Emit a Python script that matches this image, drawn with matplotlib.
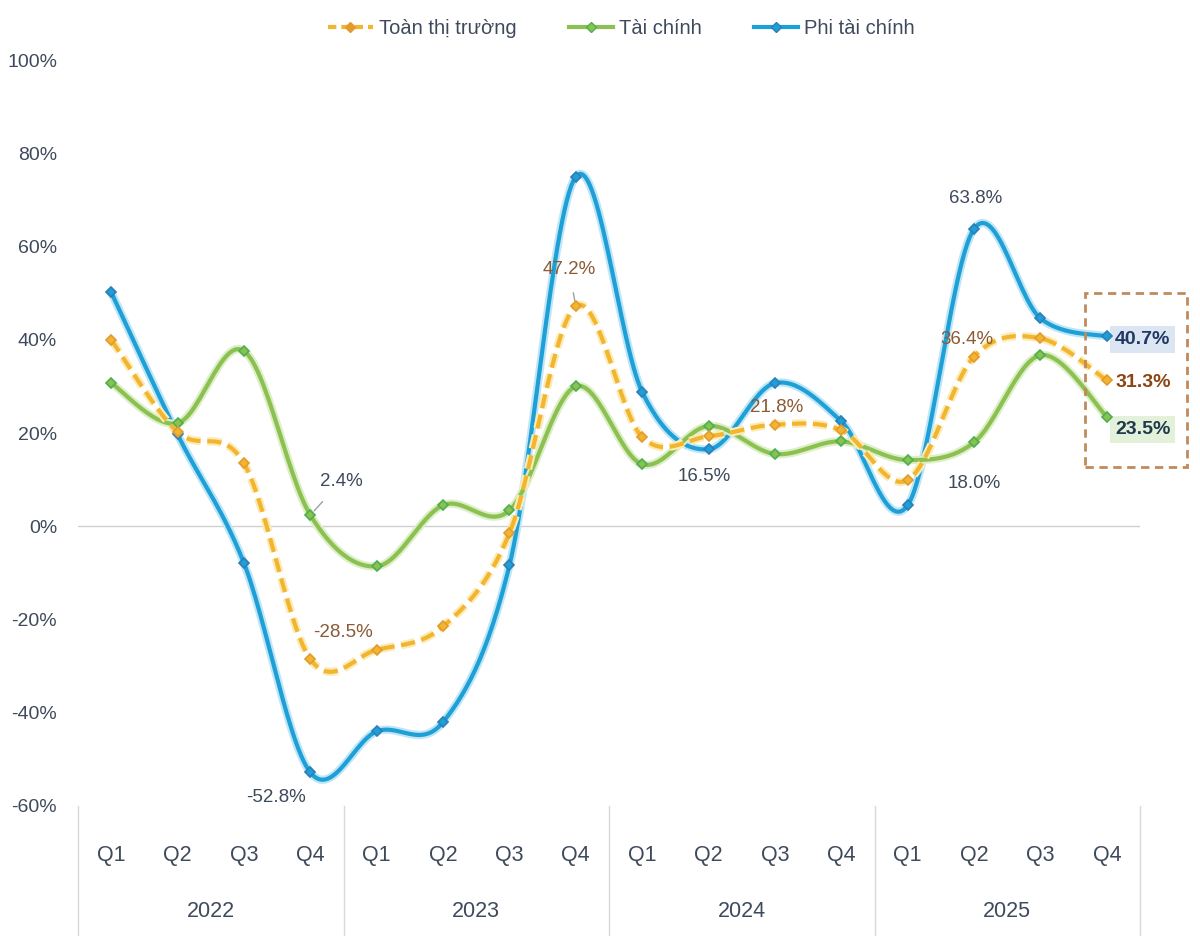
import numpy as np
import matplotlib
matplotlib.use('Agg')
import matplotlib.pyplot as plt
import matplotlib.patheffects as pe
from matplotlib.lines import Line2D
from matplotlib.patches import Rectangle

plt.rcParams['font.family'] = ['Liberation Sans', 'DejaVu Sans']

# Data
years = ['2022', '2023', '2024', '2025']
quarters = ['Q1', 'Q2', 'Q3', 'Q4'] * 4
toan_thi_truong = [40, 20.2, 13.5, -28.5, -26.5, -21.5, -1.5, 47.2,
                   19.1, 19.3, 21.8, 20.6, 9.9, 36.4, 40.3, 31.3]
tai_chinh = [30.7, 22.1, 37.6, 2.4, -8.6, 4.5, 3.4, 30.0,
             13.3, 21.5, 15.5, 18.2, 14.2, 18.0, 36.7, 23.5]
phi_tai_chinh = [50.2, 19.7, -7.9, -52.8, -44.0, -42.0, -8.4, 75.0,
                 28.8, 16.5, 30.7, 22.5, 4.5, 63.8, 44.6, 40.7]

# Colors
c_orange = '#F2B530'
c_orange_mk = '#E39A2E'
c_green = '#8CC152'
c_green_mk = '#4CAF50'
c_blue = '#1E9FD6'
c_blue_mk = '#2C7FB8'
c_text = '#3E4A5C'
c_brown = '#8A5A35'


def smooth(y, n=30):
    # Excel-like smoothed line (Catmull-Rom as Bezier)
    y = np.asarray(y, dtype=float)
    x = np.arange(len(y), dtype=float)
    xs, ys = [], []
    for i in range(len(y) - 1):
        i0 = max(i - 1, 0)
        i3 = min(i + 2, len(y) - 1)
        t = np.linspace(0, 1, n)
        for arr, out in ((x, xs), (y, ys)):
            p0, p1, p2, p3 = arr[i0], arr[i], arr[i + 1], arr[i3]
            c1 = p1 + (p2 - p0) / 6
            c2 = p2 - (p3 - p1) / 6
            b = ((1 - t) ** 3 * p1 + 3 * (1 - t) ** 2 * t * c1
                 + 3 * (1 - t) * t ** 2 * c2 + t ** 3 * p2)
            out.extend(b if i == 0 else b[1:])
    return np.array(xs), np.array(ys)


fig = plt.figure(figsize=(12, 9.41), dpi=100)
ax = fig.add_axes([0.065, 0.1435, 0.885, 0.7927])

ax.axhline(0, color='#D0D0D0', lw=1, zorder=1)

series = [
    (phi_tai_chinh, c_blue, c_blue_mk, '-', '#BFE6F7'),
    (tai_chinh, c_green, c_green_mk, '-', '#DDEFC8'),
    (toan_thi_truong, c_orange, c_orange_mk, (0, (3.4, 1.6)), '#FCEBB5'),
]
x = np.arange(16)
for vals, col, mk, ls, glow in series:
    sx, sy = smooth(vals)
    ax.plot(sx, sy, color=col, lw=3, ls=ls, zorder=3, solid_capstyle='round',
            path_effects=[pe.Stroke(linewidth=6, foreground=glow), pe.Normal()])
    ax.plot(x, vals, ls='none', marker='D', ms=5.5, mfc=col, mec=mk, mew=1.2, zorder=4)

ax.set_xlim(-0.5, 15.5)
ax.set_ylim(-60, 100)
ax.set_yticks(np.arange(-60, 101, 20))
ax.set_yticklabels([f'{v}%' for v in range(-60, 101, 20)])
ax.tick_params(axis='y', length=0, labelsize=14, labelcolor=c_text, pad=15)
ax.set_xticks([])
for s in ax.spines.values():
    s.set_visible(False)

# category axis
trans = ax.get_xaxis_transform()
for i, q in enumerate(quarters):
    ax.text(i, -0.066, q, transform=trans, ha='center', va='center',
            fontsize=15.5, color=c_text)
for g, yr in enumerate(years):
    ax.text(g * 4 + 1.5, -0.142, yr, transform=trans, ha='center', va='center',
            fontsize=15.5, color=c_text)
for b in range(5):
    ax.plot([b * 4 - 0.5] * 2, [0, -0.173], transform=trans, color='#D9D9D9',
            lw=1, clip_on=False)

# data labels (index, series, text, offset px, color, leader)
labels = [
    (3, tai_chinh, '2.4%', (31, 34), c_text, True),
    (3, toan_thi_truong, '-28.5%', (33, 27), c_brown, False),
    (3, phi_tai_chinh, '-52.8%', (-34, -25), c_text, False),
    (7, toan_thi_truong, '47.2%', (-7, 37), c_brown, True),
    (9, phi_tai_chinh, '16.5%', (-4, -27), c_text, False),
    (10, toan_thi_truong, '21.8%', (2, 17), c_brown, False),
    (13, phi_tai_chinh, '63.8%', (2, 30), c_text, False),
    (13, toan_thi_truong, '36.4%', (-7, 17), c_brown, False),
    (13, tai_chinh, '18.0%', (0, -41), c_text, False),
]
for i, arr, txt, off, col, lead in labels:
    kw = {}
    if lead:
        kw['arrowprops'] = dict(arrowstyle='-', color='#A0A0A0', lw=1,
                                shrinkA=9, shrinkB=4)
    ax.annotate(txt, (i, arr[i]), xytext=off, textcoords='offset pixels',
                ha='center', va='center', fontsize=13.5, color=col, **kw)

# highlighted end labels
ax.annotate(f'{phi_tai_chinh[15]}%', (15, phi_tai_chinh[15]), xytext=(36, -3),
            textcoords='offset pixels', ha='center', va='center', fontsize=14,
            fontweight='bold', color='#1F3864', annotation_clip=False,
            bbox=dict(boxstyle='square,pad=0.25', fc='#DCE5F2', ec='none'))
ax.annotate(f'{toan_thi_truong[15]}%', (15, toan_thi_truong[15]), xytext=(36, -2),
            textcoords='offset pixels', ha='center', va='center', fontsize=14,
            fontweight='bold', color='#8B4513', annotation_clip=False)
ax.annotate(f'{tai_chinh[15]}%', (15, tai_chinh[15]), xytext=(36, -13),
            textcoords='offset pixels', ha='center', va='center', fontsize=14,
            fontweight='bold', color='#1F3A4D', annotation_clip=False,
            bbox=dict(boxstyle='square,pad=0.25', fc='#E3F0DA', ec='none'),
            arrowprops=dict(arrowstyle='-', color='#A0A0A0', lw=1, shrinkA=20, shrinkB=4))

fig.patches.append(Rectangle((1085 / 1200, 1 - 467 / 941), 102 / 1200, 174 / 941,
                             transform=fig.transFigure, fill=False, ec='#C08A5C',
                             lw=2, ls=(0, (3, 2))))

# legend
handles = [
    Line2D([], [], color=c_orange, lw=3, ls=(0, (2, 1.2)), marker='D', ms=5.5,
           mfc=c_orange_mk, mec=c_orange_mk),
    Line2D([], [], color=c_green, lw=3, marker='D', ms=5.5, mfc=c_green, mec=c_green_mk),
    Line2D([], [], color=c_blue, lw=3, marker='D', ms=5.5, mfc=c_blue, mec=c_blue_mk),
]
fig.legend(handles, ['Toàn thị trường', 'Tài chính', 'Phi tài chính'],
           loc='center', bbox_to_anchor=(0.518, 0.97), ncol=3, frameon=False,
           fontsize=14.5, handlelength=2.2, handletextpad=0.3, columnspacing=2.6,
           labelcolor=c_text)

fig.savefig('out.png', dpi=100, facecolor='white')
